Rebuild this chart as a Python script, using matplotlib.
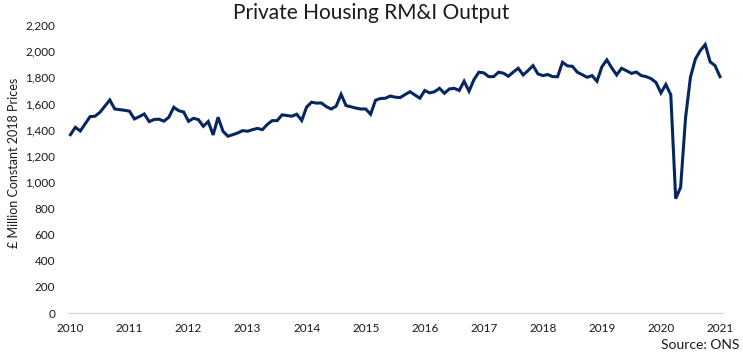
import numpy as np
import pandas as pd
import matplotlib
matplotlib.use("Agg")
import matplotlib.pyplot as plt

plt.rcParams['font.family'] = ['Lato', 'DejaVu Sans']

# monthly output, Jan 2010 - Jan 2021 (£m, constant 2018 prices)
output_2010 = [1362, 1418, 1390, 1445, 1500, 1503, 1533, 1580, 1627, 1558, 1553, 1548]
output_2011 = [1541, 1482, 1500, 1520, 1462, 1478, 1480, 1465, 1495, 1571, 1545, 1535]
output_2012 = [1464, 1487, 1477, 1426, 1462, 1360, 1495, 1388, 1350, 1362, 1375, 1393]
output_2013 = [1388, 1400, 1410, 1400, 1440, 1469, 1469, 1513, 1508, 1503, 1518, 1470]
output_2014 = [1573, 1610, 1603, 1604, 1576, 1558, 1580, 1670, 1584, 1575, 1565, 1558]
output_2015 = [1558, 1518, 1625, 1638, 1640, 1657, 1648, 1645, 1668, 1690, 1665, 1640]
output_2016 = [1699, 1681, 1690, 1716, 1678, 1711, 1716, 1699, 1770, 1694, 1782, 1839]
output_2017 = [1834, 1805, 1805, 1839, 1831, 1808, 1840, 1869, 1818, 1852, 1889, 1826]
output_2018 = [1813, 1821, 1805, 1805, 1915, 1887, 1884, 1839, 1820, 1800, 1813, 1770]
output_2019 = [1880, 1933, 1872, 1818, 1869, 1850, 1830, 1840, 1813, 1805, 1790, 1760]
output_2020 = [1681, 1745, 1666, 873, 960, 1490, 1801, 1940, 2004, 2050, 1918, 1889]
output_2021 = [1805]

years = list(range(2010, 2022))
y_ticks = list(range(0, 2201, 200))

values = (output_2010 + output_2011 + output_2012 + output_2013 + output_2014 +
          output_2015 + output_2016 + output_2017 + output_2018 + output_2019 +
          output_2020 + output_2021)
dates = pd.date_range('2010-01-01', periods=len(values), freq='MS')
df = pd.DataFrame({'date': dates, 'output': values})
df['month'] = np.arange(len(df))

fig = plt.figure(figsize=(7.43, 3.57), dpi=100)
ax = fig.add_axes([0.0915, 0.1232, 0.8815, 0.807])

ax.plot(df['month'], df['output'], color='#062660', lw=2.2, solid_joinstyle='miter')

ax.set_ylim(0, 2200)
ax.set_xlim(-0.5, 132.6)
ax.set_yticks(y_ticks)
ax.set_yticklabels([f'{v:,}' for v in y_ticks])
ax.set_xticks([12 * i for i in range(len(years))])
ax.set_xticklabels([str(y) for y in years])
ax.tick_params(axis='both', length=0, labelsize=8.5, colors='#1a1a1a')
ax.tick_params(axis='x', pad=7)
ax.tick_params(axis='y', pad=9)

for s in ['top', 'right', 'left']:
    ax.spines[s].set_visible(False)
ax.spines['bottom'].set_color('#d9d9d9')
ax.spines['bottom'].set_linewidth(1)

ax.set_ylabel('£ Million Constant 2018 Prices', fontsize=9, color='#1a1a1a')
ax.yaxis.set_label_coords(-0.073, 0.52)

fig.text(0.5, 0.963, 'Private Housing RM&I Output', ha='center', va='center',
         fontsize=15, color='#1a1a1a')
fig.text(0.995, 0.033, 'Source: ONS', ha='right', va='center', fontsize=10, color='#1a1a1a')

fig.savefig('out.png', dpi=100)
